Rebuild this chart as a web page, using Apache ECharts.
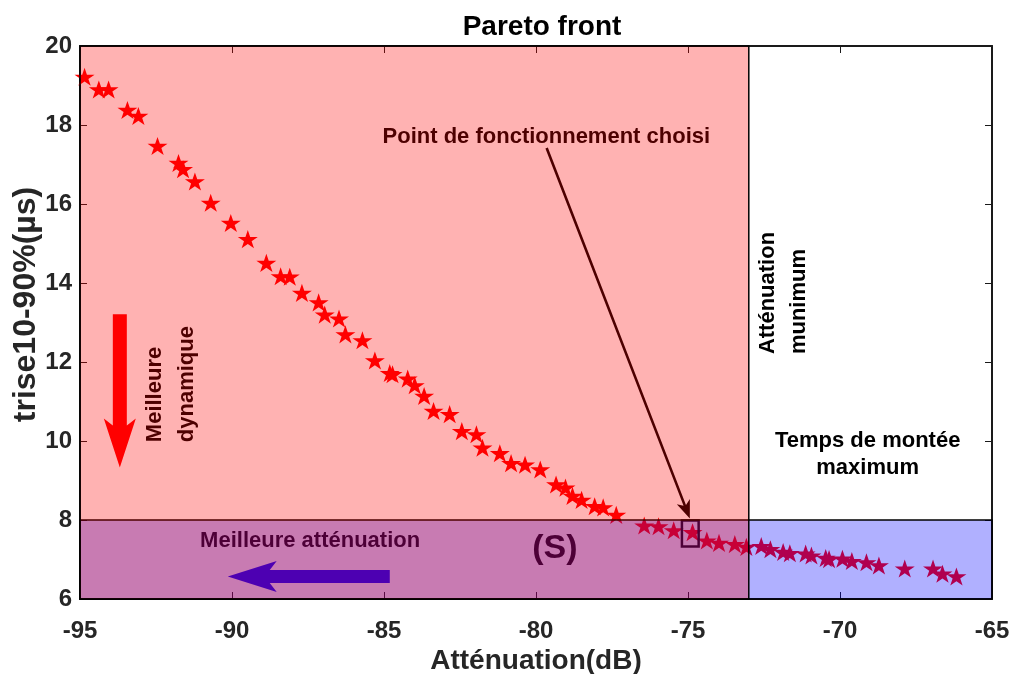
<!DOCTYPE html>
<html>
<head>
<meta charset="utf-8">
<script src="https://cdn.jsdelivr.net/npm/echarts@6/dist/echarts.min.js"></script>
<style>html,body{margin:0;padding:0;background:#fff}#c{width:1014px;height:674px}</style>
</head>
<body>
<div id="c"></div>
<script>
// ---- data ----
const attenuation = [-94.85,-94.38,-94.06,-93.44,-93.08,-92.45,-91.76,-91.61,-91.22,-90.70,
  -90.04,-89.48,-88.87,-88.40,-88.10,-87.70,-87.15,-86.95,-86.48,-86.27,
  -85.71,-85.30,-84.81,-84.72,-84.22,-83.99,-83.68,-83.37,-82.84,-82.44,
  -81.96,-81.76,-81.19,-80.82,-80.36,-79.86,-79.34,-79.03,-78.80,-78.50,
  -78.07,-77.79,-77.36,-76.44,-75.97,-75.47,-74.85,-74.38,-73.98,-73.46,
  -73.08,-72.59,-72.29,-71.87,-71.65,-71.13,-70.94,-70.47,-70.36,-69.92,
  -69.61,-69.13,-68.72,-67.87,-66.94,-66.63,-66.17];
const trise = [19.22,18.90,18.90,18.38,18.23,17.47,17.04,16.88,16.57,16.03,
  15.52,15.11,14.51,14.17,14.16,13.75,13.51,13.20,13.10,12.70,
  12.55,12.04,11.72,11.69,11.58,11.41,11.14,10.76,10.68,10.25,
  10.17,9.83,9.69,9.44,9.40,9.28,8.90,8.82,8.61,8.51,
  8.35,8.32,8.13,7.86,7.84,7.74,7.69,7.48,7.42,7.39,
  7.32,7.34,7.26,7.19,7.16,7.15,7.10,7.04,7.01,7.02,
  6.96,6.93,6.85,6.77,6.77,6.64,6.57];
const xTicks = [-95,-90,-85,-80,-75,-70,-65];
const yTicks = [6,8,10,12,14,16,18,20];
const attenuationLimit = -73;   // "Atténuation minimum"
const triseLimit = 8;           // "Temps de montée maximum"
const annotationTexts = ['Point de fonctionnement choisi', 'Meilleure\ndynamique', 'Meilleure atténuation',
  '(S)', 'Atténuation\nmunimum', 'Temps de montée\nmaximum'];

// ---- annotation layout (data units) ----
const chosenBox = [-75.2, -74.65, 7.33, 7.99];   // x0, x1, y0, y1
const pointerArrow = [[-79.65, 17.42], [-74.94, 8.04]];
const dynArrow = [[-93.69, 13.21], [-93.69, 9.33]];
const attArrow = [[-84.81, 6.57], [-90.14, 6.57]];
const textLayout = [
  {at: [-79.66, 17.70], size: 22, rot: 0, align: 'center', lh: 26},
  {at: [-92.02, 9.97], size: 22, rot: 90, align: 'left', lh: 32},
  {at: [-87.43, 7.48], size: 22, rot: 0, align: 'center', lh: 26},
  {at: [-79.38, 7.28], size: 34, rot: 0, align: 'center', lh: 40},
  {at: [-71.87, 12.20], size: 22, rot: 90, align: 'left', lh: 31},
  {at: [-69.09, 9.67], size: 22, rot: 0, align: 'center', lh: 27}
];

const FONT = '"Liberation Sans", Arial, sans-serif';
const star = 'path://M0,-100L22.45,-30.9L95.1,-30.9L36.33,11.8L58.78,80.9L0,38.2L-58.78,80.9L-36.33,11.8L-95.1,-30.9L-22.45,-30.9Z';

function arrowPoly(p0, p1, shaftHalf, headLen, headHalf, notch) {
  const dx = p1[0]-p0[0], dy = p1[1]-p0[1];
  const L = Math.sqrt(dx*dx+dy*dy);
  const ux = dx/L, uy = dy/L, nx = -uy, ny = ux;
  const pt = (a, b) => [p0[0]+ux*a+nx*b, p0[1]+uy*a+ny*b];
  const hb = L - headLen;
  return [pt(0,-shaftHalf), pt(hb+notch,-shaftHalf), pt(hb,-headHalf), pt(L,0),
          pt(hb,headHalf), pt(hb+notch,shaftHalf), pt(0,shaftHalf)];
}

const chart = echarts.init(document.getElementById('c'));
const axisCommon = {
  axisLine: {show: true, lineStyle: {color: '#1a1a1a', width: 2}},
  axisTick: {show: true, inside: true, length: 7, lineStyle: {color: '#1a1a1a', width: 1}},
  splitLine: {show: false}
};
chart.setOption({
  animation: false,
  title: {text: 'Pareto front', left: 537, textAlign: 'center', top: 8,
    textStyle: {fontFamily: FONT, fontWeight: 'bold', fontSize: 28, color: '#000'}},
  grid: {left: 80, right: 22, top: 46, bottom: 75, containLabel: false, outerBoundsMode: 'none'},
  xAxis: [
    Object.assign({type: 'value', min: xTicks[0], max: xTicks[xTicks.length-1], interval: 5,
      name: 'Atténuation(dB)', nameLocation: 'middle', nameGap: 48, nameMoveOverlap: false,
      nameTextStyle: {fontFamily: FONT, fontWeight: 'bold', fontSize: 28, color: '#262626'},
      axisLabel: {fontFamily: FONT, fontWeight: 'bold', fontSize: 24, color: '#262626', margin: 20}}, axisCommon),
    Object.assign({type: 'value', position: 'top', min: xTicks[0], max: xTicks[xTicks.length-1], interval: 5,
      axisLabel: {show: false}}, axisCommon)
  ],
  yAxis: [
    Object.assign({type: 'value', min: yTicks[0], max: yTicks[yTicks.length-1], interval: 2,
      name: 'trise10-90%(µs)', nameLocation: 'middle', nameGap: 38, nameMoveOverlap: false,
      nameTextStyle: {fontFamily: FONT, fontWeight: 'bold', fontSize: 32, color: '#262626', padding: [0, 0, 0, 36]},
      axisLabel: {fontFamily: FONT, fontWeight: 'bold', fontSize: 24, color: '#262626', margin: 8}}, axisCommon),
    Object.assign({type: 'value', position: 'right', min: yTicks[0], max: yTicks[yTicks.length-1], interval: 2,
      axisLabel: {show: false}}, axisCommon)
  ],
  series: [
    {
      type: 'scatter', z: 2,
      data: attenuation.map((a, i) => [a, trise[i]]),
      symbol: star, symbolSize: [20, 19], symbolKeepAspect: true,
      itemStyle: {color: '#ff0000', opacity: 1}
    },
    {
      type: 'custom', z: 3, silent: true,
      data: [0],
      renderItem: function (params, api) {
        const children = [];
        const pa = api.coord(pointerArrow[0]), pb = api.coord(pointerArrow[1]);
        children.push({type: 'polygon', shape: {points: arrowPoly(pa, pb, 1.3, 18, 7, 4)}, style: {fill: '#000'}});
        const da = api.coord(dynArrow[0]), db = api.coord(dynArrow[1]);
        children.push({type: 'polygon', shape: {points: arrowPoly(da, db, 7, 49, 16, 7)}, style: {fill: '#ff0000'}});
        const aa = api.coord(attArrow[0]), ab = api.coord(attArrow[1]);
        children.push({type: 'polygon', shape: {points: arrowPoly(aa, ab, 6.5, 49, 15.5, 7)}, style: {fill: '#0000ff'}});
        const b0 = api.coord([chosenBox[0], chosenBox[3]]), b1 = api.coord([chosenBox[1], chosenBox[2]]);
        children.push({type: 'rect', shape: {x: b0[0], y: b0[1], width: b1[0]-b0[0], height: b1[1]-b0[1]},
          style: {fill: 'none', stroke: '#000', lineWidth: 2.5}});
        annotationTexts.forEach((t, i) => {
          const l = textLayout[i];
          const p = api.coord(l.at);
          children.push({type: 'text', x: p[0], y: p[1], rotation: l.rot * Math.PI / 180,
            style: {text: t, fill: '#000', font: 'bold ' + l.size + 'px ' + FONT,
              align: l.align, verticalAlign: 'middle', lineHeight: l.lh}});
        });
        return {type: 'group', children: children};
      }
    },
    {
      type: 'custom', z: 4, silent: true,
      data: [0],
      renderItem: function (params, api) {
        const blue0 = api.coord([xTicks[0], triseLimit]), blue1 = api.coord([xTicks[xTicks.length-1], yTicks[0]]);
        const red0 = api.coord([xTicks[0], yTicks[yTicks.length-1]]), red1 = api.coord([attenuationLimit, yTicks[0]]);
        return {type: 'group', children: [
          {type: 'rect', shape: {x: blue0[0], y: blue0[1], width: blue1[0]-blue0[0], height: blue1[1]-blue0[1]},
            style: {fill: 'rgba(0,0,255,0.31)', stroke: '#000', lineWidth: 1.5}},
          {type: 'rect', shape: {x: red0[0], y: red0[1], width: red1[0]-red0[0], height: red1[1]-red0[1]},
            style: {fill: 'rgba(255,0,0,0.3)', stroke: '#000', lineWidth: 1.5}}
        ]};
      }
    }
  ]
});
</script>
</body>
</html>
